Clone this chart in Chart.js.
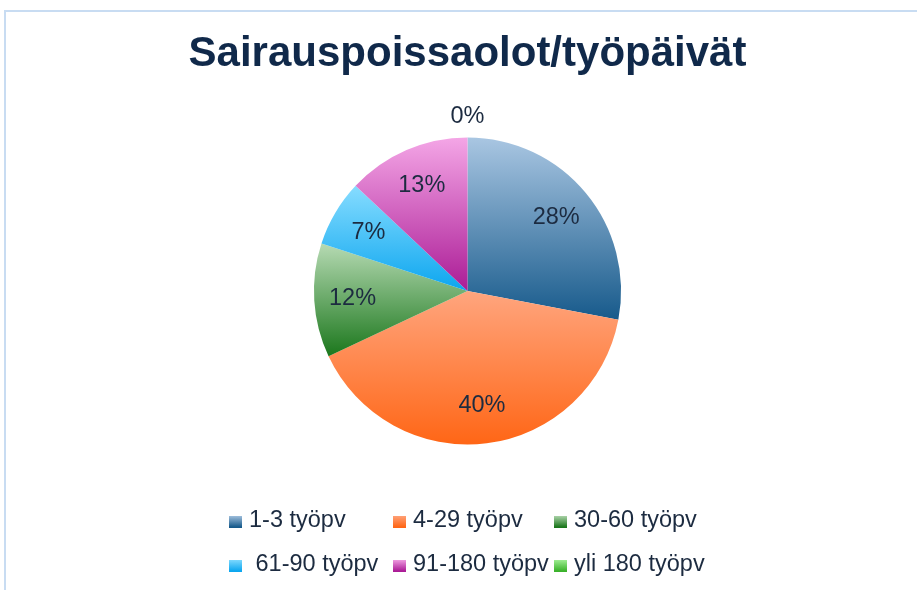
<!DOCTYPE html>
<html>
<head>
<meta charset="utf-8">
<script src="https://cdn.jsdelivr.net/npm/chart.js@4"></script>
<style>
  html, body { margin: 0; padding: 0; background: #ffffff; }
  #wrap { width: 917px; height: 590px; }
</style>
</head>
<body>
<div id="wrap"><canvas id="pie" width="917" height="590"></canvas></div>
<script>
// data
const chartTitle = 'Sairauspoissaolot/työpäivät';
const categories = ['1-3 työpv', '4-29 työpv', '30-60 työpv', ' 61-90 työpv', '91-180 työpv', 'yli 180 työpv'];
const shares = [28, 40, 12, 7, 13, 0];

// gradient ends per slice (light top -> dark bottom)
const topColors = ['#a9c6e2', '#ffa57e', '#b6dab3', '#86dcff', '#f4a6e6', '#a6f29a'];
const bottomColors = ['#175a8b', '#ff6616', '#1b771c', '#0ca6ef', '#ab1c96', '#3bb22b'];

const FONT = '"Liberation Sans", Arial, sans-serif';
const TEXT = '#1c2b40';

const total = shares.reduce((a, b) => a + b, 0);

function sliceFill(ctx) {
    const i = ctx.dataIndex;
    const chart = ctx.chart;
    const area = chart.chartArea;
    if (i === undefined) return '#999999';
    const ctrl = chart.getDatasetMeta(0).controller;
    const r = ctrl.outerRadius;
    if (!area || !r || shares[i] === 0) return bottomColors[i];
    const cx = (area.left + area.right) / 2 + ctrl.offsetX;
    const cy = (area.top + area.bottom) / 2 + ctrl.offsetY;
    let start = -Math.PI / 2;
    for (let k = 0; k < i; k++) start += shares[k] / total * 2 * Math.PI;
    const end = start + shares[i] / total * 2 * Math.PI;
    const ys = [cy, cy + r * Math.sin(start), cy + r * Math.sin(end)];
    [-Math.PI / 2, Math.PI / 2, 3 * Math.PI / 2].forEach(a => {
        if (a >= start && a <= end) ys.push(cy + r * Math.sin(a));
    });
    const y0 = Math.min(...ys), y1 = Math.max(...ys);
    const g = chart.ctx.createLinearGradient(0, y0, 0, Math.max(y1, y0 + 1));
    g.addColorStop(0, topColors[i]);
    g.addColorStop(1, bottomColors[i]);
    return g;
}

const frame = {
    id: 'frame',
    beforeDraw(chart) {
        const c = chart.ctx;
        c.save();
        c.fillStyle = '#c8dcf2';
        c.fillRect(4, 10, chart.width - 4, 2);
        c.fillRect(4, 10, 2, chart.height - 10);
        c.restore();
    }
};

const pctLabels = {
    id: 'pctLabels',
    afterDatasetsDraw(chart) {
        const c = chart.ctx;
        const meta = chart.getDatasetMeta(0);
        c.save();
        c.font = '23.5px ' + FONT;
        c.fillStyle = TEXT;
        c.textAlign = 'center';
        c.textBaseline = 'middle';
        meta.data.forEach((arc, i) => {
            const p = arc.getProps(['x', 'y', 'startAngle', 'endAngle', 'outerRadius'], true);
            const mid = (p.startAngle + p.endAngle) / 2;
            const d = shares[i] > 0 ? p.outerRadius * 0.75 : p.outerRadius + 21;
            const txt = Math.round(shares[i] / total * 100) + '%';
            c.fillText(txt, p.x + Math.cos(mid) * d, p.y + Math.sin(mid) * d);
        });
        c.restore();
    }
};

const gridLegend = {
    id: 'gridLegend',
    afterDraw(chart) {
        const c = chart.ctx;
        const cols = [229, 393, 554];
        const rows = [521, 565];
        c.save();
        c.font = '23.5px ' + FONT;
        c.textBaseline = 'middle';
        c.textAlign = 'left';
        categories.forEach((name, i) => {
            const x = cols[i % 3], y = rows[Math.floor(i / 3)];
            const g = c.createLinearGradient(0, y - 6, 0, y + 6);
            g.addColorStop(0, topColors[i]);
            g.addColorStop(1, bottomColors[i]);
            c.fillStyle = g;
            c.fillRect(x, y - 5, 13, 12);
            c.fillStyle = TEXT;
            c.fillText(name, x + 20, y);
        });
        c.restore();
    }
};

new Chart(document.getElementById('pie').getContext('2d'), {
    type: 'pie',
    data: {
        labels: categories,
        datasets: [{
            data: shares,
            backgroundColor: sliceFill,
            borderWidth: 0
        }]
    },
    options: {
        responsive: false,
        animation: false,
        layout: { padding: { left: 18, right: 0, top: 0, bottom: 145.5 } },
        plugins: {
            legend: { display: false },
            tooltip: { enabled: false },
            title: {
                display: true,
                text: chartTitle,
                color: '#10294a',
                font: { size: 42, weight: 'bold', family: FONT },
                padding: { top: 29, bottom: 58 }
            }
        }
    },
    plugins: [frame, pctLabels, gridLegend]
});
</script>
</body>
</html>
